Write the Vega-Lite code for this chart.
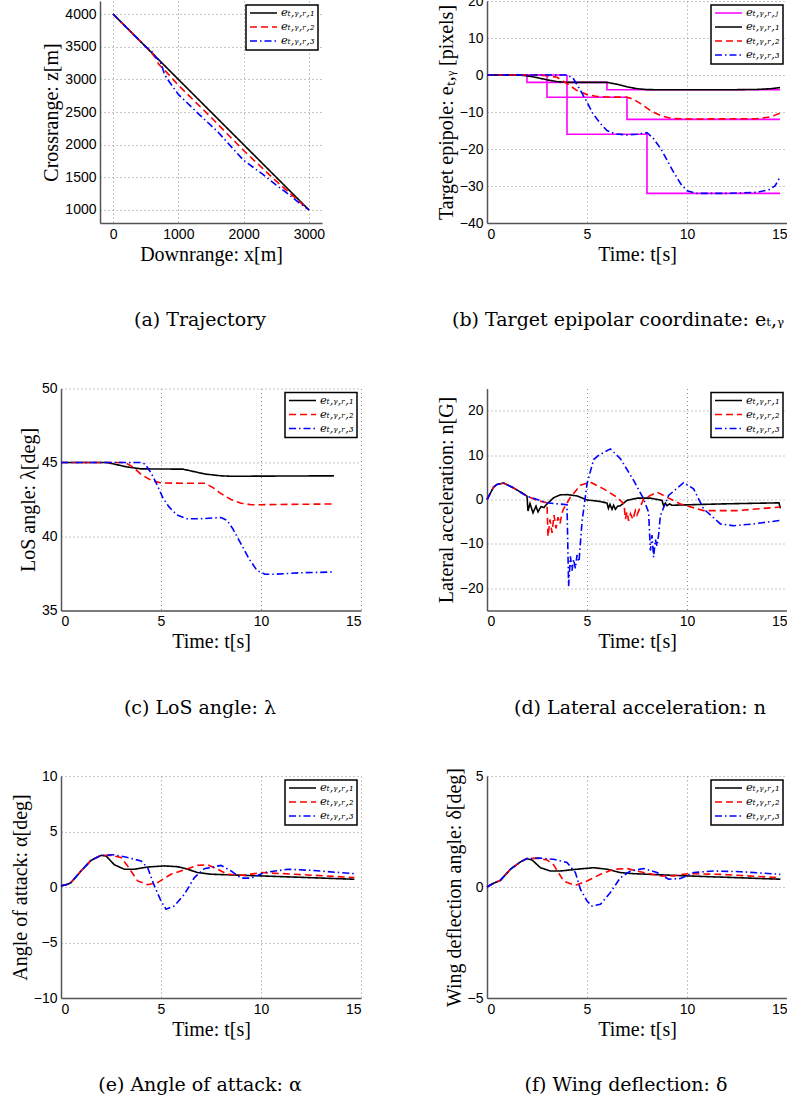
{
  "$schema": "https://vega.github.io/schema/vega-lite/v6.json",
  "padding": {"left": 10, "top": -6, "right": 0, "bottom": 0},
  "autosize": {"type": "pad"},
  "bounds": "flush",
  "spacing": 426,
  "resolve": {"scale": {"color": "independent", "strokeDash": "independent"}},
  "datasets": {
    "traj": [
      {"s": "1", "x": 0, "z": 4000}, {"s": "1", "x": 500, "z": 3500}, {"s": "1", "x": 1000, "z": 3000}, {"s": "1", "x": 1500, "z": 2500}, {"s": "1", "x": 2000, "z": 2000}, {"s": "1", "x": 2500, "z": 1500}, {"s": "1", "x": 3000, "z": 1000},
      {"s": "2", "x": 0, "z": 4000}, {"s": "2", "x": 300, "z": 3700}, {"s": "2", "x": 550, "z": 3450}, {"s": "2", "x": 650, "z": 3330}, {"s": "2", "x": 700, "z": 3230}, {"s": "2", "x": 740, "z": 3190}, {"s": "2", "x": 800, "z": 3130}, {"s": "2", "x": 1000, "z": 2910}, {"s": "2", "x": 1500, "z": 2420}, {"s": "2", "x": 2000, "z": 1910}, {"s": "2", "x": 2500, "z": 1440}, {"s": "2", "x": 2750, "z": 1220}, {"s": "2", "x": 3000, "z": 1000},
      {"s": "3", "x": 0, "z": 4000}, {"s": "3", "x": 300, "z": 3700}, {"s": "3", "x": 500, "z": 3500}, {"s": "3", "x": 600, "z": 3420}, {"s": "3", "x": 660, "z": 3330}, {"s": "3", "x": 700, "z": 3300}, {"s": "3", "x": 740, "z": 3230}, {"s": "3", "x": 780, "z": 3100}, {"s": "3", "x": 820, "z": 3020}, {"s": "3", "x": 1000, "z": 2770}, {"s": "3", "x": 1300, "z": 2480}, {"s": "3", "x": 1600, "z": 2200}, {"s": "3", "x": 2000, "z": 1760}, {"s": "3", "x": 2300, "z": 1540}, {"s": "3", "x": 2500, "z": 1380}, {"s": "3", "x": 2700, "z": 1230}, {"s": "3", "x": 2850, "z": 1110}, {"s": "3", "x": 3000, "z": 1000}
    ],
    "steps": [
      {"s": "j", "g": "a", "t": 0, "v": 0}, {"s": "j", "g": "a", "t": 2, "v": -2}, {"s": "j", "g": "a", "t": 6, "v": -4}, {"s": "j", "g": "a", "t": 14.65, "v": -4},
      {"s": "j", "g": "b", "t": 0, "v": 0}, {"s": "j", "g": "b", "t": 3, "v": -6}, {"s": "j", "g": "b", "t": 7, "v": -12}, {"s": "j", "g": "b", "t": 14.65, "v": -12},
      {"s": "j", "g": "c", "t": 0, "v": 0}, {"s": "j", "g": "c", "t": 4, "v": -16}, {"s": "j", "g": "c", "t": 8, "v": -32}, {"s": "j", "g": "c", "t": 14.65, "v": -32}
    ],
    "epi": [
      {"s": "1", "t": 0, "v": 0}, {"s": "1", "t": 1.5, "v": 0}, {"s": "1", "t": 2, "v": -0.2}, {"s": "1", "t": 2.5, "v": -0.7}, {"s": "1", "t": 3, "v": -1.3}, {"s": "1", "t": 3.5, "v": -1.8}, {"s": "1", "t": 4, "v": -2}, {"s": "1", "t": 6, "v": -2}, {"s": "1", "t": 6.5, "v": -2.5}, {"s": "1", "t": 7, "v": -3.2}, {"s": "1", "t": 7.5, "v": -3.7}, {"s": "1", "t": 8, "v": -3.95}, {"s": "1", "t": 9, "v": -4}, {"s": "1", "t": 12, "v": -4}, {"s": "1", "t": 13.5, "v": -3.9}, {"s": "1", "t": 14.2, "v": -3.7}, {"s": "1", "t": 14.65, "v": -3.4},
      {"s": "2", "t": 0, "v": 0}, {"s": "2", "t": 2.5, "v": 0}, {"s": "2", "t": 3, "v": -0.2}, {"s": "2", "t": 3.5, "v": -0.6}, {"s": "2", "t": 4, "v": -2.3}, {"s": "2", "t": 4.5, "v": -4.2}, {"s": "2", "t": 5, "v": -5.3}, {"s": "2", "t": 5.5, "v": -5.8}, {"s": "2", "t": 6, "v": -5.95}, {"s": "2", "t": 7, "v": -6}, {"s": "2", "t": 7.3, "v": -6.5}, {"s": "2", "t": 7.7, "v": -7.8}, {"s": "2", "t": 8.2, "v": -9.7}, {"s": "2", "t": 8.7, "v": -11}, {"s": "2", "t": 9.2, "v": -11.7}, {"s": "2", "t": 10, "v": -11.9}, {"s": "2", "t": 13.5, "v": -11.8}, {"s": "2", "t": 14.2, "v": -11.3}, {"s": "2", "t": 14.65, "v": -10.3},
      {"s": "3", "t": 0, "v": 0}, {"s": "3", "t": 4, "v": 0}, {"s": "3", "t": 4.3, "v": -0.8}, {"s": "3", "t": 4.6, "v": -3.5}, {"s": "3", "t": 5, "v": -7.3}, {"s": "3", "t": 5.3, "v": -10.5}, {"s": "3", "t": 5.7, "v": -13.3}, {"s": "3", "t": 6, "v": -15}, {"s": "3", "t": 6.4, "v": -15.9}, {"s": "3", "t": 7, "v": -16.2}, {"s": "3", "t": 7.5, "v": -16}, {"s": "3", "t": 8, "v": -15.6}, {"s": "3", "t": 8.3, "v": -17}, {"s": "3", "t": 8.7, "v": -20}, {"s": "3", "t": 9.3, "v": -26}, {"s": "3", "t": 9.7, "v": -29.5}, {"s": "3", "t": 10, "v": -31.3}, {"s": "3", "t": 10.5, "v": -32}, {"s": "3", "t": 12, "v": -32}, {"s": "3", "t": 13.5, "v": -31.7}, {"s": "3", "t": 14.1, "v": -31}, {"s": "3", "t": 14.4, "v": -30}, {"s": "3", "t": 14.65, "v": -27.6}
    ],
    "los": [
      {"s": "1", "t": 0, "v": 45}, {"s": "1", "t": 2.3, "v": 45}, {"s": "1", "t": 2.8, "v": 44.85}, {"s": "1", "t": 3.3, "v": 44.7}, {"s": "1", "t": 4, "v": 44.57}, {"s": "1", "t": 6.1, "v": 44.55}, {"s": "1", "t": 6.6, "v": 44.4}, {"s": "1", "t": 7.2, "v": 44.22}, {"s": "1", "t": 8, "v": 44.1}, {"s": "1", "t": 8.5, "v": 44.07}, {"s": "1", "t": 13.65, "v": 44.1},
      {"s": "2", "t": 0, "v": 45}, {"s": "2", "t": 3.2, "v": 45}, {"s": "2", "t": 3.6, "v": 44.7}, {"s": "2", "t": 4, "v": 44.2}, {"s": "2", "t": 4.5, "v": 43.8}, {"s": "2", "t": 5, "v": 43.62}, {"s": "2", "t": 6, "v": 43.6}, {"s": "2", "t": 7.2, "v": 43.6}, {"s": "2", "t": 7.6, "v": 43.3}, {"s": "2", "t": 8, "v": 42.9}, {"s": "2", "t": 8.5, "v": 42.5}, {"s": "2", "t": 9, "v": 42.25}, {"s": "2", "t": 9.5, "v": 42.15}, {"s": "2", "t": 10, "v": 42.15}, {"s": "2", "t": 13.65, "v": 42.2},
      {"s": "3", "t": 0, "v": 45}, {"s": "3", "t": 4, "v": 45}, {"s": "3", "t": 4.2, "v": 44.9}, {"s": "3", "t": 4.5, "v": 44.3}, {"s": "3", "t": 4.8, "v": 43.5}, {"s": "3", "t": 5.1, "v": 42.6}, {"s": "3", "t": 5.4, "v": 42}, {"s": "3", "t": 5.8, "v": 41.45}, {"s": "3", "t": 6.3, "v": 41.2}, {"s": "3", "t": 7, "v": 41.2}, {"s": "3", "t": 8, "v": 41.28}, {"s": "3", "t": 8.3, "v": 41.1}, {"s": "3", "t": 8.6, "v": 40.5}, {"s": "3", "t": 9, "v": 39.5}, {"s": "3", "t": 9.4, "v": 38.5}, {"s": "3", "t": 9.8, "v": 37.7}, {"s": "3", "t": 10.2, "v": 37.45}, {"s": "3", "t": 10.7, "v": 37.45}, {"s": "3", "t": 12, "v": 37.55}, {"s": "3", "t": 13.65, "v": 37.6}
    ],
    "acc": [
      {"s": "1", "t": 0, "v": 0}, {"s": "1", "t": 0.33, "v": 2.8}, {"s": "1", "t": 0.5, "v": 3.4}, {"s": "1", "t": 0.83, "v": 3.7}, {"s": "1", "t": 1.33, "v": 2.6}, {"s": "1", "t": 1.7, "v": 1.6}, {"s": "1", "t": 2.0, "v": 0.75}, {"s": "1", "t": 2.05, "v": -2.6}, {"s": "1", "t": 2.15, "v": -0.9}, {"s": "1", "t": 2.3, "v": -3.0}, {"s": "1", "t": 2.45, "v": -1.5}, {"s": "1", "t": 2.55, "v": -2.8}, {"s": "1", "t": 2.7, "v": -1.6}, {"s": "1", "t": 2.85, "v": -1.8}, {"s": "1", "t": 3.0, "v": -1.0}, {"s": "1", "t": 3.33, "v": 0.4}, {"s": "1", "t": 3.67, "v": 1.05}, {"s": "1", "t": 4.0, "v": 1.1}, {"s": "1", "t": 4.5, "v": 0.8}, {"s": "1", "t": 5.0, "v": -0.1}, {"s": "1", "t": 5.67, "v": -0.45}, {"s": "1", "t": 6.0, "v": -0.8}, {"s": "1", "t": 6.07, "v": -2.0}, {"s": "1", "t": 6.15, "v": -1.1}, {"s": "1", "t": 6.25, "v": -2.2}, {"s": "1", "t": 6.33, "v": -1.3}, {"s": "1", "t": 6.42, "v": -2.2}, {"s": "1", "t": 6.53, "v": -1.5}, {"s": "1", "t": 6.67, "v": -1.4}, {"s": "1", "t": 7.0, "v": -0.2}, {"s": "1", "t": 7.5, "v": 0.3}, {"s": "1", "t": 8.17, "v": 0.3}, {"s": "1", "t": 8.75, "v": -0.2}, {"s": "1", "t": 8.83, "v": -1.4}, {"s": "1", "t": 8.92, "v": -0.8}, {"s": "1", "t": 9.0, "v": -1.4}, {"s": "1", "t": 9.13, "v": -1.0}, {"s": "1", "t": 9.25, "v": -1.3}, {"s": "1", "t": 10, "v": -1.2}, {"s": "1", "t": 11.67, "v": -1.0}, {"s": "1", "t": 14.6, "v": -0.75}, {"s": "1", "t": 14.67, "v": -2.0},
      {"s": "2", "t": 0, "v": 0}, {"s": "2", "t": 0.33, "v": 2.8}, {"s": "2", "t": 0.5, "v": 3.4}, {"s": "2", "t": 0.83, "v": 3.7}, {"s": "2", "t": 1.33, "v": 2.6}, {"s": "2", "t": 2.0, "v": 0.75}, {"s": "2", "t": 2.5, "v": -0.2}, {"s": "2", "t": 3.0, "v": -0.75}, {"s": "2", "t": 3.05, "v": -8.3}, {"s": "2", "t": 3.15, "v": -4.5}, {"s": "2", "t": 3.25, "v": -7.5}, {"s": "2", "t": 3.35, "v": -3.5}, {"s": "2", "t": 3.45, "v": -6.5}, {"s": "2", "t": 3.55, "v": -4}, {"s": "2", "t": 3.65, "v": -5.5}, {"s": "2", "t": 3.75, "v": -3}, {"s": "2", "t": 3.83, "v": -2.1}, {"s": "2", "t": 4.17, "v": 0.5}, {"s": "2", "t": 4.67, "v": 3.2}, {"s": "2", "t": 5.17, "v": 3.9}, {"s": "2", "t": 5.83, "v": 2.4}, {"s": "2", "t": 6.5, "v": 0.5}, {"s": "2", "t": 6.85, "v": -1.0}, {"s": "2", "t": 6.92, "v": -4.4}, {"s": "2", "t": 7.0, "v": -2.8}, {"s": "2", "t": 7.08, "v": -4.8}, {"s": "2", "t": 7.17, "v": -3.2}, {"s": "2", "t": 7.3, "v": -4.5}, {"s": "2", "t": 7.42, "v": -2.5}, {"s": "2", "t": 7.5, "v": -3.5}, {"s": "2", "t": 7.83, "v": 0.15}, {"s": "2", "t": 8.5, "v": 1.65}, {"s": "2", "t": 9.0, "v": 0.5}, {"s": "2", "t": 9.67, "v": -1.0}, {"s": "2", "t": 10.83, "v": -2.5}, {"s": "2", "t": 12.5, "v": -2.5}, {"s": "2", "t": 14.67, "v": -1.7},
      {"s": "3", "t": 0, "v": 0}, {"s": "3", "t": 0.33, "v": 2.8}, {"s": "3", "t": 0.5, "v": 3.4}, {"s": "3", "t": 0.83, "v": 3.7}, {"s": "3", "t": 1.33, "v": 2.6}, {"s": "3", "t": 2.0, "v": 0.75}, {"s": "3", "t": 3.0, "v": -0.75}, {"s": "3", "t": 3.83, "v": -1.1}, {"s": "3", "t": 4.0, "v": -1.2}, {"s": "3", "t": 4.08, "v": -19.5}, {"s": "3", "t": 4.17, "v": -12.8}, {"s": "3", "t": 4.25, "v": -16}, {"s": "3", "t": 4.33, "v": -13.5}, {"s": "3", "t": 4.42, "v": -15.5}, {"s": "3", "t": 4.5, "v": -12.5}, {"s": "3", "t": 4.6, "v": -14}, {"s": "3", "t": 4.75, "v": -5.1}, {"s": "3", "t": 5.0, "v": 3.5}, {"s": "3", "t": 5.33, "v": 9.0}, {"s": "3", "t": 5.6, "v": 10}, {"s": "3", "t": 6.17, "v": 11.4}, {"s": "3", "t": 6.67, "v": 9.2}, {"s": "3", "t": 7.33, "v": 4.3}, {"s": "3", "t": 7.83, "v": 0.15}, {"s": "3", "t": 8.08, "v": -2.9}, {"s": "3", "t": 8.17, "v": -11.5}, {"s": "3", "t": 8.25, "v": -8}, {"s": "3", "t": 8.33, "v": -13}, {"s": "3", "t": 8.42, "v": -9}, {"s": "3", "t": 8.5, "v": -10.5}, {"s": "3", "t": 8.58, "v": -8}, {"s": "3", "t": 8.67, "v": -3.6}, {"s": "3", "t": 9.08, "v": 0.9}, {"s": "3", "t": 9.83, "v": 3.8}, {"s": "3", "t": 10.33, "v": 2.4}, {"s": "3", "t": 10.83, "v": -2.1}, {"s": "3", "t": 11.67, "v": -5.5}, {"s": "3", "t": 12.33, "v": -5.9}, {"s": "3", "t": 13.33, "v": -5.5}, {"s": "3", "t": 14.67, "v": -4.7}
    ],
    "aoa": [
      {"s": "1", "t": 0, "v": 0.1}, {"s": "1", "t": 0.33, "v": 0.24}, {"s": "1", "t": 0.5, "v": 0.4}, {"s": "1", "t": 1, "v": 1.44}, {"s": "1", "t": 1.5, "v": 2.4}, {"s": "1", "t": 2, "v": 2.85}, {"s": "1", "t": 2.25, "v": 2.8}, {"s": "1", "t": 2.67, "v": 2.0}, {"s": "1", "t": 3.17, "v": 1.6}, {"s": "1", "t": 3.67, "v": 1.6}, {"s": "1", "t": 4.33, "v": 1.8}, {"s": "1", "t": 5.17, "v": 1.9}, {"s": "1", "t": 5.83, "v": 1.83}, {"s": "1", "t": 6.33, "v": 1.6}, {"s": "1", "t": 6.83, "v": 1.3}, {"s": "1", "t": 7.5, "v": 1.15}, {"s": "1", "t": 10, "v": 1.0}, {"s": "1", "t": 12.5, "v": 0.84}, {"s": "1", "t": 14.67, "v": 0.7},
      {"s": "2", "t": 0, "v": 0.1}, {"s": "2", "t": 0.33, "v": 0.24}, {"s": "2", "t": 0.5, "v": 0.4}, {"s": "2", "t": 1, "v": 1.44}, {"s": "2", "t": 1.5, "v": 2.4}, {"s": "2", "t": 2, "v": 2.85}, {"s": "2", "t": 2.5, "v": 2.85}, {"s": "2", "t": 3, "v": 2.65}, {"s": "2", "t": 3.33, "v": 1.9}, {"s": "2", "t": 3.83, "v": 0.55}, {"s": "2", "t": 4.33, "v": 0.2}, {"s": "2", "t": 4.83, "v": 0.4}, {"s": "2", "t": 5.5, "v": 1.15}, {"s": "2", "t": 6.33, "v": 1.65}, {"s": "2", "t": 6.83, "v": 1.95}, {"s": "2", "t": 7.33, "v": 2.0}, {"s": "2", "t": 7.83, "v": 1.6}, {"s": "2", "t": 8.33, "v": 1.15}, {"s": "2", "t": 9.17, "v": 1.05}, {"s": "2", "t": 10, "v": 1.3}, {"s": "2", "t": 11.67, "v": 1.15}, {"s": "2", "t": 14.67, "v": 0.85},
      {"s": "3", "t": 0, "v": 0.1}, {"s": "3", "t": 0.33, "v": 0.24}, {"s": "3", "t": 0.5, "v": 0.4}, {"s": "3", "t": 1, "v": 1.44}, {"s": "3", "t": 1.5, "v": 2.4}, {"s": "3", "t": 2, "v": 2.85}, {"s": "3", "t": 2.67, "v": 2.9}, {"s": "3", "t": 3.33, "v": 2.65}, {"s": "3", "t": 4, "v": 2.35}, {"s": "3", "t": 4.33, "v": 1.75}, {"s": "3", "t": 4.67, "v": 0.1}, {"s": "3", "t": 5, "v": -1.25}, {"s": "3", "t": 5.25, "v": -2.0}, {"s": "3", "t": 5.67, "v": -1.7}, {"s": "3", "t": 6.17, "v": -0.65}, {"s": "3", "t": 6.67, "v": 0.85}, {"s": "3", "t": 7.17, "v": 1.65}, {"s": "3", "t": 8, "v": 1.95}, {"s": "3", "t": 8.5, "v": 1.45}, {"s": "3", "t": 9, "v": 0.8}, {"s": "3", "t": 9.5, "v": 0.8}, {"s": "3", "t": 10.17, "v": 1.3}, {"s": "3", "t": 11.33, "v": 1.6}, {"s": "3", "t": 12.5, "v": 1.5}, {"s": "3", "t": 14.67, "v": 1.2}
    ],
    "wing": [
      {"s": "1", "t": 0, "v": 0}, {"s": "1", "t": 0.33, "v": 0.17}, {"s": "1", "t": 0.67, "v": 0.3}, {"s": "1", "t": 1.17, "v": 0.8}, {"s": "1", "t": 1.67, "v": 1.13}, {"s": "1", "t": 2, "v": 1.28}, {"s": "1", "t": 2.25, "v": 1.22}, {"s": "1", "t": 2.67, "v": 0.87}, {"s": "1", "t": 3.17, "v": 0.72}, {"s": "1", "t": 3.67, "v": 0.72}, {"s": "1", "t": 4.5, "v": 0.8}, {"s": "1", "t": 5.33, "v": 0.87}, {"s": "1", "t": 6, "v": 0.8}, {"s": "1", "t": 6.67, "v": 0.65}, {"s": "1", "t": 7.33, "v": 0.6}, {"s": "1", "t": 10, "v": 0.5}, {"s": "1", "t": 14.67, "v": 0.35},
      {"s": "2", "t": 0, "v": 0}, {"s": "2", "t": 0.33, "v": 0.17}, {"s": "2", "t": 0.67, "v": 0.3}, {"s": "2", "t": 1.17, "v": 0.8}, {"s": "2", "t": 1.67, "v": 1.13}, {"s": "2", "t": 2, "v": 1.28}, {"s": "2", "t": 2.5, "v": 1.3}, {"s": "2", "t": 3, "v": 1.22}, {"s": "2", "t": 3.33, "v": 1.0}, {"s": "2", "t": 3.83, "v": 0.27}, {"s": "2", "t": 4.42, "v": 0.07}, {"s": "2", "t": 5, "v": 0.27}, {"s": "2", "t": 5.67, "v": 0.57}, {"s": "2", "t": 6.33, "v": 0.8}, {"s": "2", "t": 7, "v": 0.83}, {"s": "2", "t": 7.83, "v": 0.65}, {"s": "2", "t": 8.67, "v": 0.5}, {"s": "2", "t": 9.33, "v": 0.5}, {"s": "2", "t": 10, "v": 0.6}, {"s": "2", "t": 11.67, "v": 0.57}, {"s": "2", "t": 14.67, "v": 0.42},
      {"s": "3", "t": 0, "v": 0}, {"s": "3", "t": 0.33, "v": 0.17}, {"s": "3", "t": 0.67, "v": 0.3}, {"s": "3", "t": 1.17, "v": 0.8}, {"s": "3", "t": 1.67, "v": 1.13}, {"s": "3", "t": 2, "v": 1.28}, {"s": "3", "t": 2.67, "v": 1.3}, {"s": "3", "t": 3.33, "v": 1.25}, {"s": "3", "t": 4, "v": 1.1}, {"s": "3", "t": 4.42, "v": 0.65}, {"s": "3", "t": 4.67, "v": -0.1}, {"s": "3", "t": 5, "v": -0.63}, {"s": "3", "t": 5.25, "v": -0.86}, {"s": "3", "t": 5.67, "v": -0.78}, {"s": "3", "t": 6.17, "v": -0.25}, {"s": "3", "t": 6.67, "v": 0.42}, {"s": "3", "t": 7.17, "v": 0.72}, {"s": "3", "t": 7.83, "v": 0.83}, {"s": "3", "t": 8.5, "v": 0.65}, {"s": "3", "t": 9.08, "v": 0.35}, {"s": "3", "t": 9.67, "v": 0.38}, {"s": "3", "t": 10.33, "v": 0.65}, {"s": "3", "t": 11.33, "v": 0.72}, {"s": "3", "t": 12.67, "v": 0.69}, {"s": "3", "t": 14.67, "v": 0.57}
    ]
  },
  "hconcat": [
    {
      "bounds": "flush",
      "spacing": 165.5,
      "center": true,
      "resolve": {"scale": {"color": "independent", "strokeDash": "independent"}},
      "vconcat": [
        {
          "width": 222, "height": 222,
          "data": {"name": "traj"},
          "title": {"text": "(a) Trajectory", "dx": -11},
          "mark": {"type": "line", "strokeWidth": 1.6},
          "encoding": {
            "x": {"field": "x", "type": "quantitative", "scale": {"domain": [-200, 3200], "nice": false, "zero": false}, "axis": {"title": "Downrange: x[m]", "values": [0, 1000, 2000, 3000], "format": "d"}},
            "y": {"field": "z", "type": "quantitative", "scale": {"domain": [800, 4200], "nice": false, "zero": false}, "axis": {"title": "Crossrange: z[m]", "values": [1000, 1500, 2000, 2500, 3000, 3500, 4000], "format": "d"}},
            "color": {"field": "s", "type": "nominal", "scale": {"domain": ["1", "2", "3"], "range": ["#000000", "#ff0000", "#0000ff"]}, "legend": {"labelExpr": "'eₜ,ᵧ,ᵣ,' + (datum.label == '1' ? '₁' : datum.label == '2' ? '₂' : datum.label == '3' ? '₃' : 'ⱼ')"}},
            "strokeDash": {"field": "s", "type": "nominal", "scale": {"domain": ["1", "2", "3"], "range": [[1, 0], [7, 4], [7, 3, 1.5, 3]]}, "legend": {"labelExpr": "'eₜ,ᵧ,ᵣ,' + (datum.label == '1' ? '₁' : datum.label == '2' ? '₂' : datum.label == '3' ? '₃' : 'ⱼ')"}}
          }
        },
        {
          "width": 300, "height": 222,
          "data": {"name": "los"},
          "title": {"text": "(c) LoS angle: λ", "dx": -11},
          "mark": {"type": "line", "strokeWidth": 1.6},
          "encoding": {
            "x": {"field": "t", "type": "quantitative", "scale": {"domain": [0, 15], "nice": false}, "axis": {"title": "Time: t[s]", "values": [0, 5, 10, 15]}},
            "y": {"field": "v", "type": "quantitative", "scale": {"domain": [35, 50], "nice": false, "zero": false}, "axis": {"title": "LoS angle: λ[deg]", "values": [35, 40, 45, 50]}},
            "color": {"field": "s", "type": "nominal", "scale": {"domain": ["1", "2", "3"], "range": ["#000000", "#ff0000", "#0000ff"]}, "legend": {"labelExpr": "'eₜ,ᵧ,ᵣ,' + (datum.label == '1' ? '₁' : datum.label == '2' ? '₂' : datum.label == '3' ? '₃' : 'ⱼ')"}},
            "strokeDash": {"field": "s", "type": "nominal", "scale": {"domain": ["1", "2", "3"], "range": [[1, 0], [7, 4], [7, 3, 1.5, 3]]}, "legend": {"labelExpr": "'eₜ,ᵧ,ᵣ,' + (datum.label == '1' ? '₁' : datum.label == '2' ? '₂' : datum.label == '3' ? '₃' : 'ⱼ')"}}
          }
        },
        {
          "width": 300, "height": 222,
          "data": {"name": "aoa"},
          "title": {"text": "(e) Angle of attack: α", "dx": -11, "offset": 37},
          "mark": {"type": "line", "strokeWidth": 1.6},
          "encoding": {
            "x": {"field": "t", "type": "quantitative", "scale": {"domain": [0, 15], "nice": false}, "axis": {"title": "Time: t[s]", "values": [0, 5, 10, 15]}},
            "y": {"field": "v", "type": "quantitative", "scale": {"domain": [-10, 10], "nice": false}, "axis": {"title": "Angle of attack: α[deg]", "values": [-10, -5, 0, 5, 10]}},
            "color": {"field": "s", "type": "nominal", "scale": {"domain": ["1", "2", "3"], "range": ["#000000", "#ff0000", "#0000ff"]}, "legend": {"labelExpr": "'eₜ,ᵧ,ᵣ,' + (datum.label == '1' ? '₁' : datum.label == '2' ? '₂' : datum.label == '3' ? '₃' : 'ⱼ')"}},
            "strokeDash": {"field": "s", "type": "nominal", "scale": {"domain": ["1", "2", "3"], "range": [[1, 0], [7, 4], [7, 3, 1.5, 3]]}, "legend": {"labelExpr": "'eₜ,ᵧ,ᵣ,' + (datum.label == '1' ? '₁' : datum.label == '2' ? '₂' : datum.label == '3' ? '₃' : 'ⱼ')"}}
          }
        }
      ]
    },
    {
      "bounds": "flush",
      "spacing": 165.5,
      "resolve": {"scale": {"color": "independent", "strokeDash": "independent"}},
      "vconcat": [
        {
          "width": 300, "height": 222,
          "title": {"text": "(b) Target epipolar coordinate: eₜ,ᵧ", "anchor": "start", "frame": "group", "dx": -35},
          "encoding": {
            "x": {"field": "t", "type": "quantitative", "scale": {"domain": [0, 15], "nice": false}, "axis": {"title": "Time: t[s]", "values": [0, 5, 10, 15]}},
            "y": {"field": "v", "type": "quantitative", "scale": {"domain": [-40, 20], "nice": false}, "axis": {"title": "Target epipole: eₜ,ᵧ  [pixels]", "values": [-40, -30, -20, -10, 0, 10, 20]}},
            "color": {"field": "s", "type": "nominal", "scale": {"domain": ["j", "1", "2", "3"], "range": ["#ff00ff", "#000000", "#ff0000", "#0000ff"]}, "legend": {"labelExpr": "'eₜ,ᵧ,ᵣ,' + (datum.label == '1' ? '₁' : datum.label == '2' ? '₂' : datum.label == '3' ? '₃' : 'ⱼ')"}},
            "strokeDash": {"field": "s", "type": "nominal", "scale": {"domain": ["j", "1", "2", "3"], "range": [[1, 0], [1, 0], [7, 4], [7, 3, 1.5, 3]]}, "legend": {"labelExpr": "'eₜ,ᵧ,ᵣ,' + (datum.label == '1' ? '₁' : datum.label == '2' ? '₂' : datum.label == '3' ? '₃' : 'ⱼ')"}}
          },
          "layer": [
            {"data": {"name": "steps"}, "mark": {"type": "line", "strokeWidth": 1.6, "interpolate": "step-after"}, "encoding": {"detail": {"field": "g"}}},
            {"data": {"name": "epi"}, "mark": {"type": "line", "strokeWidth": 1.6}}
          ]
        },
        {
          "width": 300, "height": 222,
          "data": {"name": "acc"},
          "title": {"text": "(d) Lateral acceleration: n", "dx": 3},
          "mark": {"type": "line", "strokeWidth": 1.6},
          "encoding": {
            "x": {"field": "t", "type": "quantitative", "scale": {"domain": [0, 15], "nice": false}, "axis": {"title": "Time: t[s]", "values": [0, 5, 10, 15]}},
            "y": {"field": "v", "type": "quantitative", "scale": {"domain": [-25, 25], "nice": false}, "axis": {"title": "Lateral acceleration: n[G]", "values": [-20, -10, 0, 10, 20]}},
            "color": {"field": "s", "type": "nominal", "scale": {"domain": ["1", "2", "3"], "range": ["#000000", "#ff0000", "#0000ff"]}, "legend": {"labelExpr": "'eₜ,ᵧ,ᵣ,' + (datum.label == '1' ? '₁' : datum.label == '2' ? '₂' : datum.label == '3' ? '₃' : 'ⱼ')"}},
            "strokeDash": {"field": "s", "type": "nominal", "scale": {"domain": ["1", "2", "3"], "range": [[1, 0], [7, 4], [7, 3, 1.5, 3]]}, "legend": {"labelExpr": "'eₜ,ᵧ,ᵣ,' + (datum.label == '1' ? '₁' : datum.label == '2' ? '₂' : datum.label == '3' ? '₃' : 'ⱼ')"}}
          }
        },
        {
          "width": 300, "height": 222,
          "data": {"name": "wing"},
          "title": {"text": "(f) Wing deflection: δ", "dx": -11, "offset": 37},
          "mark": {"type": "line", "strokeWidth": 1.6},
          "encoding": {
            "x": {"field": "t", "type": "quantitative", "scale": {"domain": [0, 15], "nice": false}, "axis": {"title": "Time: t[s]", "values": [0, 5, 10, 15]}},
            "y": {"field": "v", "type": "quantitative", "scale": {"domain": [-5, 5], "nice": false}, "axis": {"title": "Wing deflection angle: δ[deg]", "values": [-5, 0, 5]}},
            "color": {"field": "s", "type": "nominal", "scale": {"domain": ["1", "2", "3"], "range": ["#000000", "#ff0000", "#0000ff"]}, "legend": {"labelExpr": "'eₜ,ᵧ,ᵣ,' + (datum.label == '1' ? '₁' : datum.label == '2' ? '₂' : datum.label == '3' ? '₃' : 'ⱼ')"}},
            "strokeDash": {"field": "s", "type": "nominal", "scale": {"domain": ["1", "2", "3"], "range": [[1, 0], [7, 4], [7, 3, 1.5, 3]]}, "legend": {"labelExpr": "'eₜ,ᵧ,ᵣ,' + (datum.label == '1' ? '₁' : datum.label == '2' ? '₂' : datum.label == '3' ? '₃' : 'ⱼ')"}}
          }
        }
      ]
    }
  ],
  "config": {
    "view": {"stroke": null},
    "axis": {
      "grid": true, "gridColor": "#8c8c8c", "gridDash": [1, 3], "gridWidth": 1,
      "domainColor": "#555555", "domainWidth": 1.5, "ticks": false,
      "labelFont": "Liberation Sans", "labelFontSize": 14, "labelColor": "#000000", "labelPadding": 4,
      "titleFont": "Liberation Serif", "titleFontSize": 20, "titleFontWeight": "normal", "titleColor": "#000000", "titlePadding": 3
    },
    "legend": {
      "orient": "top-right", "offset": 4, "title": null, "padding": 3,
      "strokeColor": "#000000", "strokeWidth": 1.5, "fillColor": "#ffffff", "cornerRadius": 0,
      "symbolType": "stroke", "symbolSize": 729, "symbolStrokeWidth": 1.6,
      "labelFont": "DejaVu Serif", "labelFontSize": 11.5, "labelFontStyle": "italic", "labelColor": "#000000",
      "clipHeight": 10, "rowPadding": 2, "labelOffset": 3
    },
    "title": {"font": "DejaVu Serif", "fontSize": 19, "fontWeight": "normal", "color": "#000000", "orient": "bottom", "offset": 47}
  }
}
